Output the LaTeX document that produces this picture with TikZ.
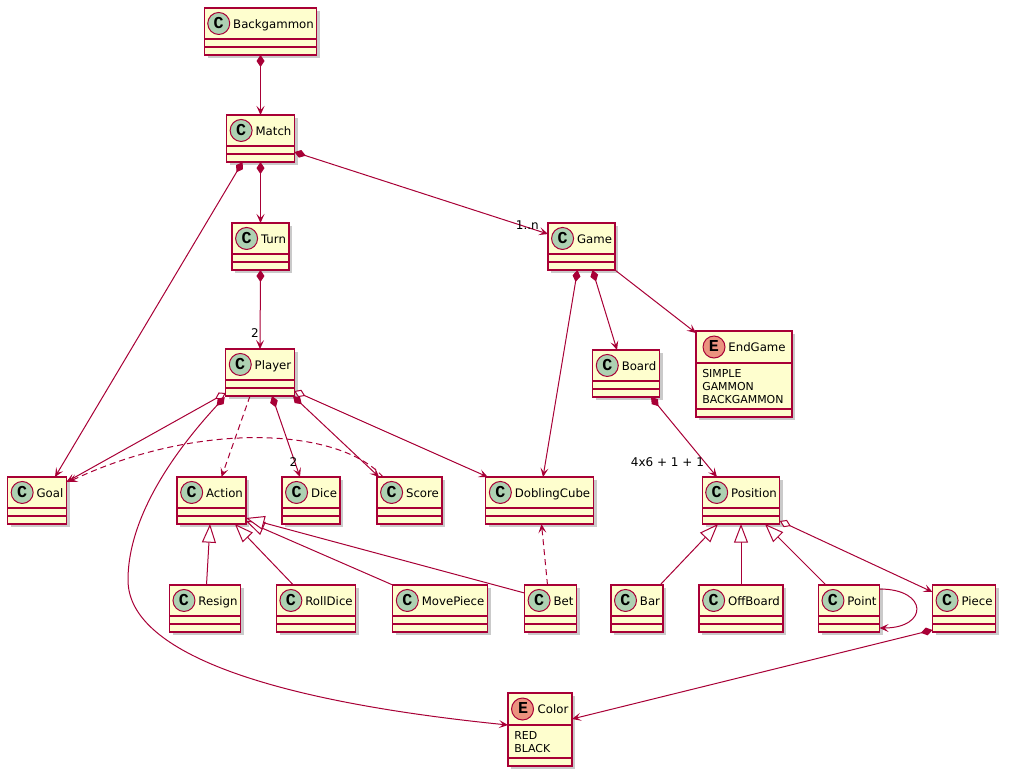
\documentclass[tikz,border=0pt]{standalone}
\usepackage{fontspec}
\setmainfont{DejaVu Sans}
\newfontfamily\spotfont{Liberation Mono}
\usepackage{tikz}
\usetikzlibrary{arrows.meta,calc,shadows}
\definecolor{umlred}{HTML}{A80036}
\definecolor{umlfill}{HTML}{FEFECE}
\definecolor{spotc}{HTML}{ADD1B2}
\definecolor{spote}{HTML}{EB937F}
\newcommand{\titlefont}{\fontsize{8.8pt}{10.5pt}\selectfont}
\newcommand{\valfont}{\fontsize{8.2pt}{9.75pt}\selectfont}
\newcommand{\multfont}{\fontsize{9pt}{11pt}\selectfont}
\newcommand{\spotletter}[1]{\makebox[17.25pt]{\spotfont\bfseries\fontsize{12.5pt}{12.5pt}\selectfont #1}\hspace*{2.25pt}}

\begin{document}
\begin{tikzpicture}[
  x=0.75pt, y=-0.75pt,
  spot shift/.store in=\spotshift, spot shift=0pt,
  spot char/.store in=\spotchar, spot char=C,
  spot fill/.store in=\spotfill, spot fill=spotc,
  umlclass/.style={draw=umlred, fill=umlfill, line width=0.95pt, anchor=north, inner xsep=2.25pt, inner ysep=0pt, outer sep=0pt,
    text height=15pt, text depth=20.25pt, font=\titlefont,
    drop shadow={shadow xshift=2.5pt, shadow yshift=-2.5pt, opacity=0.35, fill=black!60},
    execute at begin node={\spotletter{\spotchar}},
    path picture={
      \fill[\spotfill, draw=umlred, line width=0.75pt] ($(path picture bounding box.north west)+(10.9pt,-11.6pt)+(\spotshift,0pt)$) circle (8.25pt);
      \draw[umlred, line width=0.95pt] ($(path picture bounding box.north west)+(0pt,-23.25pt)$) -- ($(path picture bounding box.north east)+(0pt,-23.25pt)$)
        ($(path picture bounding box.south west)+(0pt,6pt)$) -- ($(path picture bounding box.south east)+(0pt,6pt)$);
    }},
  umlenum/.style={umlclass, spot char=E, spot fill=spote,
    path picture={
      \fill[\spotfill, draw=umlred, line width=0.75pt] ($(path picture bounding box.north west)+(10.9pt,-12pt)+(\spotshift,0pt)$) circle (8.25pt);
      \draw[umlred, line width=0.95pt] ($(path picture bounding box.north west)+(0pt,-24pt)$) -- ($(path picture bounding box.north east)+(0pt,-24pt)$)
        ($(path picture bounding box.south west)+(0pt,6pt)$) -- ($(path picture bounding box.south east)+(0pt,6pt)$);
    }},
  enumvals/.style={anchor=north west, align=left, inner sep=0pt, font=\valfont},
  mult/.style={font=\multfont, inner sep=0pt},
  line/.style={umlred, line width=0.75pt},
  assoc/.style={line, -{Stealth[length=6.75pt, width=6pt, inset=3pt]}},
  comp/.style={line, {Diamond[length=9pt, width=6pt]}-{Stealth[length=6.75pt, width=6pt, inset=3pt]}},
  aggr/.style={line, {Diamond[open, length=9pt, width=6pt, fill=white]}-{Stealth[length=6.75pt, width=6pt, inset=3pt]}},
  inherit/.style={line, {Triangle[open, length=14pt, width=10.5pt, fill=white]}-},
  dep/.style={assoc, dash pattern=on 4.5pt off 3pt}
]
  \useasboundingbox (0,0) rectangle (1009,779);

  % classes
  \node[umlclass] (backgammon) at (260.5,8) {Backgammon};
  \node[umlclass] (match) at (260.5,115) {Match};
  \node[umlclass] (turn) at (260.5,223) {Turn};
  \node[umlclass] (game) at (581.5,223) {Game};
  \node[umlclass] (player) at (260,349) {Player};
  \node[umlclass] (board) at (626,350) {Board};
  \node[umlenum, minimum width=72pt, text depth=49.5pt, spot shift=2.6pt] (endgame) at (744,331) {EndGame};
  \node[enumvals] (endgame-vals) at ($(endgame.north west)+(6,38)$) {SIMPLE\\GAMMON\\BACKGAMMON};
  \node[umlclass] (goal) at (37,477) {Goal};
  \node[umlclass] (action) at (211.5,477) {Action};
  \node[umlclass] (dice) at (311,477) {Dice};
  \node[umlclass] (score) at (409.5,477) {Score};
  \node[umlclass] (doblingcube) at (539.5,477) {DoblingCube};
  \node[umlclass] (position) at (741,477) {Position};
  \node[umlclass] (resign) at (205,585) {Resign};
  \node[umlclass] (rolldice) at (316,585) {RollDice};
  \node[umlclass] (movepiece) at (440,585) {MovePiece};
  \node[umlclass] (bet) at (550.5,585) {Bet};
  \node[umlclass] (bar) at (637,585) {Bar};
  \node[umlclass] (offboard) at (741,585) {OffBoard};
  \node[umlclass] (point) at (849,585) {Point};
  \node[umlclass] (piece) at (964,585) {Piece};
  \node[umlenum, minimum width=48pt, text depth=39.75pt] (color) at (540,693) {Color};
  \node[enumvals] (color-vals) at ($(color.north west)+(6,38)$) {RED\\BLACK};

  % relations
  \draw[comp] (backgammon.south) -- (match.north);
  \draw[comp] (match.south) -- (turn.north);
  \draw[comp] ($(match.south west)+(16,0)$) -- ($(goal.north)+(18,0)$);
  \draw[comp] ($(match.south east)+(0,-10)$) -- ($(game.north west)+(0,11)$);
  \draw[comp] (turn.south) -- (player.north);
  \draw[comp] ($(game.south)+(-4,0)$) -- ($(doblingcube.north)+(3.5,0)$);
  \draw[comp] ($(game.south)+(11,0)$) -- ($(board.north)+(-9,0)$);
  \draw[assoc] (game.south east) -- ($(endgame.north west)+(0,2)$);
  \draw[comp] ($(board.south)+(25,0)$) -- ($(position.north)+(-24,0)$);

  \draw[aggr] ($(player.south west)+(0,-3)$) -- ($(goal.north east)+(0,5)$);
  \draw[comp] ($(player.south west)+(-1,1)$) .. controls (185,440) and (128,510) .. (128,580)
    .. controls (128,650) and (260,700) .. ($(color.north west)+(0,32)$);
  \draw[dep] ($(player.south)+(-10,0)$) -- ($(action.north)+(10,0)$);
  \draw[comp] ($(player.south)+(12,0)$) -- ($(dice.north)+(-11,0)$);
  \draw[comp] ($(player.south)+(33,0)$) -- ($(score.north west)+(2,0)$);
  \draw[aggr] ($(player.south east)+(0,-5)$) -- ($(doblingcube.north west)+(2,0)$);
  \draw[dep] ($(score.north west)+(6,0)$) .. controls (340,428) and (200,420) .. ($(goal.north east)+(2,5)$);

  \draw[inherit] ($(action.south)+(-1.5,0)$) -- ($(resign.north)+(1.5,0)$);
  \draw[inherit] ($(action.south east)+(-11,0)$) -- ($(rolldice.north west)+(17,0)$);
  \draw[inherit] ($(action.south east)+(0,-3)$) -- (movepiece.north west);
  \draw[inherit] ($(action.south east)+(0,-6)$) -- ($(bet.north west)+(0,8)$);
  \draw[dep] ($(bet.north)+(-3,0)$) -- ($(doblingcube.south)+(2,0)$);

  \draw[inherit] ($(position.south)+(-23,0)$) -- ($(bar.north)+(23,0)$);
  \draw[inherit] (position.south) -- (offboard.north);
  \draw[inherit] ($(position.south)+(24,0)$) -- ($(point.north)+(-23,0)$);
  \draw[aggr] ($(position.south east)+(0,-3)$) -- ($(piece.north west)+(0,7)$);
  \draw[assoc] ($(point.north east)+(0,4)$) .. controls +(49,0) and +(49,0) .. ($(point.south east)+(0,-4)$);
  \draw[comp] ($(piece.south west)+(0,-2)$) -- ($(color.north east)+(0,26)$);

  % multiplicities
  \node[mult, anchor=east] (game-mult) at ($(game.north west)+(-9,2)$) {1..n};
  \node[mult, anchor=east] (player-mult) at ($(player.north)+(-1,-16)$) {2};
  \node[mult, anchor=east] (dice-mult) at ($(dice.north west)+(15.5,-15)$) {2};
  \node[mult, anchor=east] (position-mult) at ($(position.north west)+(2,-15)$) {4x6 + 1 + 1};
\end{tikzpicture}
\end{document}
